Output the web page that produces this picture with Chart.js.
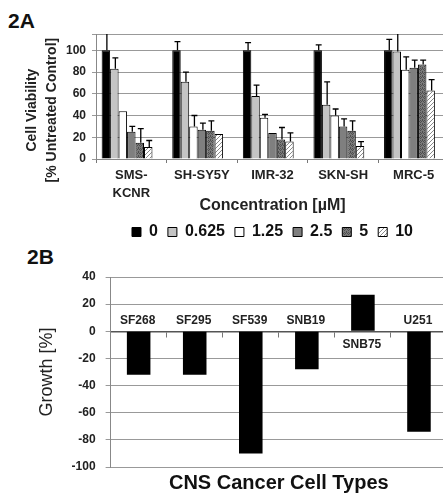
<!DOCTYPE html>
<html>
<head>
<meta charset="utf-8">
<script src="https://cdn.jsdelivr.net/npm/chart.js@4"></script>
<style>
  body { margin: 0; width: 443px; height: 493px; overflow: hidden; background: #fff; position: relative; font-family: "Liberation Sans", Arial, sans-serif; }
  .tag { position: absolute; font-weight: bold; font-size: 21px; line-height: 1; color: #111; }
  #boxA { position: absolute; left: 0; top: 0; }
  #boxB { position: absolute; left: 0; top: 245px; }
</style>
</head>
<body>
<div class="tag" style="left:8px; top:10px;">2A</div>
<div class="tag" style="left:27px; top:246px;">2B</div>
<div id="boxA"><canvas id="chartA" width="449" height="250"></canvas></div>
<div id="boxB"><canvas id="chartB" width="447" height="250"></canvas></div>
<script>
// panel A - cell viability
const cellLinesA = [["SMS-", "KCNR"], "SH-SY5Y", "IMR-32", "SKN-SH", "MRC-5"];
const concentrations = ["0", "0.625", "1.25", "2.5", "5", "10"];
const viab0    = [100, 100, 100, 100, 100];
const viab0625 = [83, 71, 58, 50, 99];
const viab125  = [44, 30, 38, 40, 82];
const viab25   = [25, 27, 24, 30, 84];
const viab5    = [15, 26, 18, 26, 87];
const viab10   = [11, 23, 16, 12, 63];
// top of each error bar (null = none drawn)
const err0    = [117, 108, 107, 105, 110];
const err0625 = [93, 80, 68, 71, 117];
const err125  = [null, 40, 41, 46, 94];
const err25   = [30, 33, null, 37, 91];
const err5    = [28, 35, 29, 35, 91];
const err10   = [17, null, 24, 16, 73];

// panel B - growth
const cellLinesB = ["SF268", "SF295", "SF539", "SNB19", "SNB75", "U251"];
const growth = [-32, -32, -90, -28, 27, -74];

const sans = "'Liberation Sans', Arial, sans-serif";
const pad = "\u00a0\u00a0\u00a0\u00a0\u00a0\u00a0\u00a0";

function makePattern(bg, fg, kind) {
    let c = document.createElement("canvas");
    c.width = 4; c.height = 4;
    let g = c.getContext("2d");
    g.fillStyle = bg;
    g.fillRect(0, 0, 4, 4);
    g.fillStyle = fg;
    if (kind == "diag") {
        for (let i = 0; i < 4; i++) g.fillRect(3 - i, i, 1, 1);
    } else {
        g.fillRect(0, 0, 1, 1); g.fillRect(2, 0, 1, 1);
        g.fillRect(1, 1, 1, 1); g.fillRect(3, 1, 1, 1);
        g.fillRect(0, 2, 1, 1); g.fillRect(2, 3, 1, 1);
    }
    return document.getElementById("chartA").getContext("2d").createPattern(c, "repeat");
}

const fills = ["#000000", "#c4c4c4", "#ffffff", "#7f7f7f",
    makePattern("#7a7a7a", "#4e4e4e", "check"), makePattern("#ffffff", "#8a8a8a", "diag")];
const values = [viab0, viab0625, viab125, viab25, viab5, viab10];
const errs = [err0, err0625, err125, err25, err5, err10];

const errorBars = {
    id: "errorBars",
    afterDatasetsDraw(chart) {
        let ctx = chart.ctx, y = chart.scales.y, a = chart.chartArea;
        ctx.save();
        ctx.beginPath();
        ctx.rect(a.left, a.top, a.right - a.left, a.bottom - a.top);
        ctx.clip();
        ctx.strokeStyle = "#000";
        ctx.lineWidth = 1.3;
        chart.data.datasets.forEach((ds, di) => {
            if (!ds.errTop) return;
            chart.getDatasetMeta(di).data.forEach((bar, i) => {
                let e = ds.errTop[i];
                if (e == null) return;
                let x = bar.x + 1, top = y.getPixelForValue(e), half = bar.width * 0.35;
                ctx.beginPath();
                ctx.moveTo(x, bar.y);
                ctx.lineTo(x, top);
                ctx.moveTo(x - half, top);
                ctx.lineTo(x + half, top);
                ctx.stroke();
            });
        });
        ctx.restore();
    }
};

// keep the legend centred under the plot rather than the whole canvas
const centreLegend = {
    id: "centreLegend",
    beforeDraw(chart) {
        let lg = chart.legend, a = chart.chartArea;
        let shift = (a.left + a.right) / 2 - (lg.left + lg.right) / 2;
        lg.left += shift;
        lg.right += shift;
    }
};

let dsA = concentrations.map((c, k) => ({
    label: c,
    data: values[k],
    errTop: errs[k],
    backgroundColor: fills[k],
    borderColor: "#000",
    borderWidth: 1
}));
// empty slot at the end of each group, as in the original
dsA.push({ label: "", data: cellLinesA.map(() => null), backgroundColor: "#fff" });

new Chart(document.getElementById("chartA"), {
    type: "bar",
    data: { labels: cellLinesA, datasets: dsA },
    plugins: [errorBars, centreLegend],
    options: {
        responsive: false,
        animation: false,
        barPercentage: 1,
        categoryPercentage: 0.84,
        layout: { padding: { top: 34, left: 20, right: 0, bottom: 0 } },
        plugins: {
            tooltip: { enabled: false },
            legend: {
                position: "bottom",
                labels: {
                    boxWidth: 9, boxHeight: 9, padding: 10, color: "#111",
                    font: { family: sans, size: 16, weight: "bold" },
                    filter: item => item.datasetIndex < 6
                }
            }
        },
        scales: {
            x: {
                afterFit: s => { s.height = 55; },
                grid: { drawOnChartArea: false, tickLength: 4, color: "#777" },
                border: { color: "#888" },
                ticks: { color: "#222", padding: 3, maxRotation: 0, autoSkip: false,
                    font: { family: sans, size: 13, weight: "bold", lineHeight: 1.4 } },
                title: { display: true, text: "Concentration [µM]", color: "#222", padding: 0,
                    font: { family: sans, size: 16, weight: "bold", lineHeight: 1.1 } }
            },
            y: {
                afterFit: s => { s.width = 76; },
                min: 0, max: 115,
                ticks: { stepSize: 20, color: "#222", padding: 6, autoSkip: false,
                    callback: v => v % 20 === 0 ? v : "",
                    font: { family: sans, size: 12, weight: "bold" } },
                grid: { color: "#999", tickLength: 4 },
                border: { color: "#888" },
                title: { display: true, text: ["Cell Viability" + pad, "[% Untreated Control]" + pad], color: "#222", padding: 2,
                    font: { family: sans, size: 14, weight: "bold", lineHeight: 1.45 } }
            }
        }
    }
});

const barNames = {
    id: "barNames",
    afterDatasetsDraw(chart) {
        let ctx = chart.ctx, y = chart.scales.y;
        let y0 = y.getPixelForValue(0);
        ctx.save();
        ctx.font = "bold 12px " + sans;
        ctx.fillStyle = "#222";
        ctx.textAlign = "center";
        ctx.textBaseline = "middle";
        chart.getDatasetMeta(0).data.forEach((bar, i) => {
            let ty = growth[i] < 0 ? y0 - 11 : y0 + 13;
            ctx.fillText(cellLinesB[i], bar.x - 1, ty);
        });
        ctx.restore();
    }
};

new Chart(document.getElementById("chartB"), {
    type: "bar",
    data: {
        labels: cellLinesB,
        datasets: [{ label: "Growth", data: growth, backgroundColor: "#000", borderWidth: 0 }]
    },
    plugins: [barNames],
    options: {
        responsive: false,
        animation: false,
        barPercentage: 0.42,
        categoryPercentage: 1,
        layout: { padding: { top: 32, left: 32, right: 0, bottom: 0 } },
        plugins: {
            tooltip: { enabled: false },
            legend: { display: false },
            title: {
                display: true, position: "bottom", fullSize: false,
                text: "CNS Cancer Cell Types", color: "#111",
                padding: { top: 5, bottom: 0 },
                font: { family: sans, size: 20, weight: "bold", lineHeight: 1.15 }
            }
        },
        scales: {
            x: {
                position: { y: 0 },
                grid: { drawOnChartArea: false, tickLength: 5, color: "#777" },
                border: { color: "#555", width: 1.5 },
                ticks: { display: false }
            },
            y: {
                min: -100, max: 40,
                ticks: { stepSize: 20, color: "#222", padding: 10, font: { family: sans, size: 12, weight: "bold" } },
                grid: { color: "#999", tickLength: 5 },
                border: { color: "#888" },
                title: { display: true, text: "Growth [%]", color: "#222", padding: 4,
                    font: { family: sans, size: 18 } }
            }
        }
    }
});
</script>
</body>
</html>
